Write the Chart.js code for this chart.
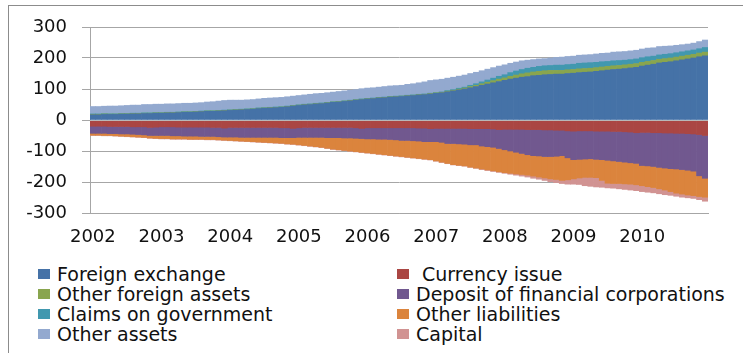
<!DOCTYPE html>
<html>
<head>
<meta charset="utf-8">
<title>Central bank balance sheet</title>
<script src="https://cdn.jsdelivr.net/npm/chart.js@4/dist/chart.umd.min.js"></script>
<style>
    html, body {
        margin: 0;
        padding: 0;
        background: #fff;
        overflow: hidden;
    }
    .frame {
        position: absolute;
        left: 8px;
        top: 5px;
        width: 800px;
        height: 400px;
        border-left: 1px solid #8c8c8c;
        border-top: 1px solid #8c8c8c;
    }
    .chart-box {
        position: absolute;
        left: 0;
        top: 0;
        width: 743px;
        height: 250px;
    }
    #legend {
        position: absolute;
        left: 38px;
        top: 264px;
        display: grid;
        grid-template-columns: 359px auto;
        grid-auto-rows: 20px;
        font-family: "DejaVu Sans", sans-serif;
        font-size: 19px;
        color: #111;
    }
    .legend-item {
        display: flex;
        align-items: center;
        white-space: pre;
    }
    .legend-box {
        width: 12px;
        height: 10px;
        margin-right: 7px;
        flex: none;
    }
</style>
</head>
<body>
<div class="frame"></div>
<div class="chart-box"><canvas id="balanceChart" width="743" height="250"></canvas></div>
<div id="legend"></div>

<script>
// Monthly balance sheet, 2002-2010 (12 bars per year)
const years = ['2002', '2003', '2004', '2005', '2006', '2007', '2008', '2009', '2010'];
const yTicks = [-300, -200, -100, 0, 100, 200, 300];

// Assets (stacked upward)
const foreignExchange = [
    17, 17, 18, 18, 18, 19, 19, 20, 20, 21, 21, 22,
    22, 23, 23, 24, 25, 25, 26, 27, 28, 28, 29, 30,
    31, 32, 33, 34, 35, 37, 38, 39, 40, 41, 43, 45,
    47, 49, 50, 52, 53, 55, 57, 58, 60, 62, 64, 66,
    68, 69, 71, 72, 74, 75, 76, 78, 79, 81, 82, 84,
    86, 88, 91, 94, 97, 100, 104, 108, 112, 116, 120, 124,
    128, 132, 135, 138, 140, 143, 144, 146, 147, 148, 148, 150,
    151, 153, 154, 155, 157, 159, 161, 163, 164, 166, 168, 170,
    174, 177, 180, 184, 186, 188, 191, 194, 197, 200, 204, 207
];
const otherForeignAssets = [
    1.5, 1.5, 1.5, 1, 1, 1, 1, 1, 1, 1, 1, 1,
    1, 1, 1, 1, 1, 1, 1, 1, 1, 1, 1, 1,
    1, 1, 1, 1, 1, 1, 1, 1, 1, 1, 1, 1,
    1, 1, 1, 1, 1, 1, 1, 1, 1, 1, 1, 1,
    1, 1, 1, 1, 1, 1, 1, 1, 1, 1, 1, 1.5,
    1.5, 1.5, 2, 2, 2.5, 3, 4, 4, 5, 6, 7, 8,
    8, 9, 10, 11, 12, 12, 13, 13, 13, 12, 12, 12,
    12, 12, 12, 12, 12, 12, 12, 12, 12, 12, 12, 12,
    12, 12, 12, 12, 12, 12, 12, 12, 12, 12, 12, 12
];
const claimsOnGovernment = [
    1, 1, 1, 1, 1, 1, 1, 1, 1, 1, 1, 1,
    1, 1, 1, 1, 1, 1, 1, 1, 1, 1, 1, 1,
    1, 1, 1, 1, 1, 1, 1, 1, 1, 1, 1, 1,
    1, 1, 1, 1, 1, 1, 1, 1, 1, 1, 1, 1,
    1, 1, 1, 1, 1, 1, 1, 1, 1, 1, 1, 1,
    1, 1, 2, 2, 3, 3, 4, 5, 6, 7, 8, 9,
    10, 12, 13, 14, 15, 15, 16, 16, 16, 17, 17, 17,
    17, 18, 18, 18, 17, 17, 16, 16, 16, 15, 15, 15,
    15, 15, 14, 14, 14, 14, 14, 14, 14, 14, 14, 15
];
const otherAssets = [
    24, 24, 24, 25, 25, 25, 26, 26, 26, 27, 27, 27,
    27, 27, 27, 27, 27, 27, 27, 27, 28, 29, 30, 31,
    31, 30, 29, 29, 29, 29, 30, 30, 30, 30, 30, 30,
    30, 30, 31, 31, 31, 31, 31, 32, 32, 32, 32, 33,
    33, 33, 33, 34, 34, 34, 34, 35, 36, 37, 39, 41,
    41, 41, 40, 40, 39, 39, 38, 37, 36, 35, 34, 33,
    32, 30, 29, 28, 26, 25, 24, 23, 24, 25, 26, 26,
    26, 26, 26, 26, 27, 27, 27, 28, 28, 28, 28, 28,
    28, 28, 27, 27, 26, 25, 24, 23, 22, 22, 23, 24
];

// Liabilities (stacked downward)
const currencyIssue = [
    -20, -20, -20, -21, -21, -21, -21, -22, -22, -22, -24, -23,
    -22, -22, -22, -23, -23, -23, -23, -23, -23, -24, -24, -26,
    -24, -24, -24, -24, -24, -24, -24, -24, -24, -25, -25, -27,
    -25, -24, -24, -24, -24, -24, -24, -24, -24, -24, -25, -27,
    -25, -25, -25, -25, -25, -25, -25, -25, -25, -26, -26, -28,
    -27, -27, -27, -27, -27, -27, -28, -28, -28, -28, -29, -31,
    -30, -30, -30, -30, -31, -31, -31, -32, -32, -33, -33, -35,
    -36, -35, -35, -35, -36, -36, -36, -37, -37, -38, -39, -41,
    -40, -40, -41, -41, -42, -42, -43, -43, -44, -45, -47, -50
];
const depositFinancial = [
    -23, -23, -23, -23, -23, -24, -24, -24, -25, -26, -26, -27,
    -28, -28, -29, -28, -29, -29, -29, -30, -30, -29, -30, -29,
    -31, -31, -32, -32, -32, -32, -32, -32, -32, -32, -32, -30,
    -31, -32, -32, -32, -32, -33, -33, -33, -34, -34, -34, -33,
    -36, -36, -37, -37, -38, -39, -41, -41, -42, -42, -44, -42,
    -43, -45, -49, -49, -50, -51, -52, -52, -56, -58, -59, -61,
    -66, -70, -74, -78, -81, -84, -85, -86, -86, -84, -82, -87,
    -92, -92, -91, -90, -91, -92, -94, -95, -97, -98, -99, -99,
    -107, -108, -109, -112, -113, -115, -115, -117, -118, -120, -133, -138
];
const otherLiabilities = [
    -6, -6, -7, -6, -7, -7, -8, -8, -8, -8, -8, -9,
    -10, -10, -10, -10, -9, -10, -10, -9, -10, -10, -10, -10,
    -11, -12, -12, -13, -14, -15, -16, -17, -18, -18, -20, -21,
    -24, -26, -28, -30, -32, -34, -37, -39, -40, -42, -43, -44,
    -45, -47, -48, -50, -51, -52, -52, -54, -55, -56, -56, -58,
    -62, -64, -64, -68, -69, -70, -72, -75, -74, -75, -76, -75,
    -74, -72, -70, -68, -66, -66, -68, -69, -72, -75, -80, -71,
    -62, -60, -59, -60, -59, -67, -74, -73, -71, -70, -69, -69,
    -65, -67, -68, -69, -71, -74, -78, -79, -80, -79, -67, -61
];
const capital = [
    -1, -1, -1, -1, -1, -1, -1, -1, -1, -1, -1, -1,
    -1, -1, -1, -1, -1, -1, -1, -1, -1, -1, -1, -1,
    -1, -1, -1, -1, -1, -1, -1, -1, -1, -1, -1, -1,
    -1, -1, -1, -1, -1, -1, -1, -1, -1, -1, -1, -1,
    -1, -1, -1, -1, -1, -1, -1, -1, -1, -1, -1, -1,
    -1, -1, -1, -1, -1, -1, -1, -1, -2, -2, -2, -2,
    -2, -3, -4, -5, -6, -7, -7, -8, -9, -10, -10, -14,
    -17, -21, -27, -29, -30, -22, -15, -15, -17, -18, -19, -19,
    -19, -18, -17, -16, -15, -12, -10, -10, -9, -9, -10, -13
];

const gridColor = '#a6a6a6';
const tickFont = { family: 'DejaVu Sans', size: 18 };

// one category per month, year shown on January only
const months = [];
years.forEach(y => {
    for (let m = 1; m <= 12; m++) {
        months.push(y + '-' + String(m).padStart(2, '0'));
    }
});

function series(label, data, color) {
    return {
        label: label,
        data: data,
        backgroundColor: color,
        borderWidth: 0,
        barPercentage: 1,
        categoryPercentage: 1
    };
}

// Axis line at zero, drawn over the bars
const zeroLine = {
    id: 'zeroLine',
    afterDatasetsDraw(chart) {
        const { ctx, chartArea, scales } = chart;
        const y = Math.round(scales.y.getPixelForValue(0)) + 0.5;
        ctx.save();
        ctx.strokeStyle = '#b8b8b8';
        ctx.lineWidth = 1;
        ctx.beginPath();
        ctx.moveTo(chartArea.left, y);
        ctx.lineTo(chartArea.right, y);
        ctx.stroke();
        ctx.restore();
    }
};

const chart = new Chart(document.getElementById('balanceChart'), {
    type: 'bar',
    data: {
        labels: months,
        datasets: [
            series('Foreign exchange', foreignExchange, '#4572A7'),
            series(' Currency issue', currencyIssue, '#AA4643'),
            series('Other foreign assets', otherForeignAssets, '#89A54E'),
            series('Deposit of financial corporations', depositFinancial, '#71588F'),
            series('Claims on government', claimsOnGovernment, '#4198AF'),
            series('Other liabilities', otherLiabilities, '#DB843D'),
            series('Other assets', otherAssets, '#93A9CF'),
            series('Capital', capital, '#D19392')
        ]
    },
    options: {
        responsive: false,
        animation: false,
        layout: {
            padding: { left: 0, right: 35, top: 27, bottom: 0 }
        },
        plugins: {
            legend: { display: false },
            tooltip: { enabled: false }
        },
        scales: {
            x: {
                stacked: true,
                grid: { display: false, drawTicks: false },
                border: { display: true, color: gridColor },
                ticks: {
                    autoSkip: false,
                    maxRotation: 0,
                    minRotation: 0,
                    padding: 14,
                    color: '#111',
                    font: tickFont,
                    callback: function(value, index) {
                        return index % 12 === 0 ? years[index / 12] : '';
                    }
                },
                afterFit: function(scale) {
                    scale.height = 37;
                }
            },
            y: {
                stacked: true,
                min: yTicks[0],
                max: yTicks[yTicks.length - 1],
                grid: { color: gridColor, tickLength: 8 },
                border: { display: true, color: gridColor },
                afterBuildTicks: function(scale) {
                    scale.ticks = yTicks.map(v => ({ value: v }));
                },
                ticks: {
                    padding: 15,
                    color: '#111',
                    font: tickFont
                },
                afterFit: function(scale) {
                    scale.width = 90;
                }
            }
        }
    },
    plugins: [zeroLine]
});

// Two-column legend below the plot
const legendEl = document.getElementById('legend');
chart.data.datasets.forEach(ds => {
    const item = document.createElement('div');
    item.className = 'legend-item';
    const box = document.createElement('span');
    box.className = 'legend-box';
    box.style.background = ds.backgroundColor;
    const text = document.createElement('span');
    text.textContent = ds.label;
    item.appendChild(box);
    item.appendChild(text);
    legendEl.appendChild(item);
});
</script>
</body>
</html>
